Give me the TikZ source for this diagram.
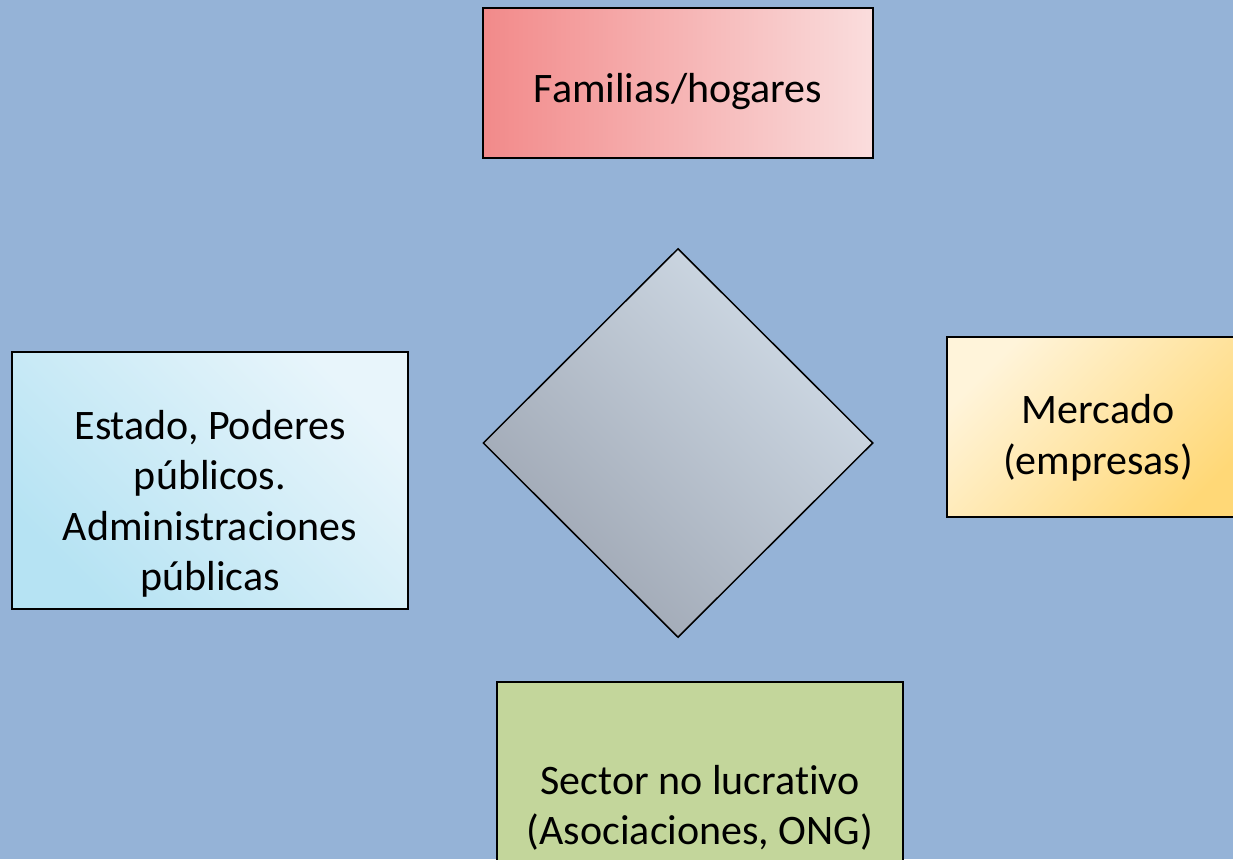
\documentclass[tikz,border=0pt]{standalone}
\usepackage{fontspec}
\setmainfont[Ligatures=NoCommon]{Carlito}
\usetikzlibrary{shapes.geometric}
\definecolor{fondo}{HTML}{95B3D7}
\definecolor{famA}{HTML}{F28A8A}
\definecolor{famB}{HTML}{FADDDD}
\definecolor{estA}{HTML}{B6E3F3}
\definecolor{estB}{HTML}{E8F5FB}
\definecolor{merA}{HTML}{FFF4DA}
\definecolor{merB}{HTML}{FFD877}
\definecolor{romA}{HTML}{9DA5B2}
\definecolor{romB}{HTML}{D1DCE7}
\definecolor{secA}{HTML}{C3D69B}

\begin{document}
\begin{tikzpicture}[x=1pt, y=-1pt, caja/.style={draw, line width=1.5pt, rectangle, inner sep=0pt}, txt/.style={align=center, inner sep=0pt, font=\fontsize{42}{50.5}\selectfont}]
\fill[fondo] (0,0) rectangle (1233,859);
\useasboundingbox (0,0) rectangle (1233,859);
%diamond in the middle
\node[diamond, draw, line width=1.5pt, inner sep=0pt, minimum width=390pt, minimum height=389pt, top color=romB, bottom color=romA, shading angle=-45] (rombo) at (678,443) {};
%boxes
\node[caja, minimum width=390pt, minimum height=150pt, left color=famA, right color=famB] (fam) at (678,83) {};
\node[caja, minimum width=396pt, minimum height=257pt, top color=estB, bottom color=estA, shading angle=-45] (est) at (210,480.5) {};
\node[caja, minimum width=302pt, minimum height=180pt, top color=merA, bottom color=merB, shading angle=45] (mer) at (1098,427) {};
\node[caja, minimum width=406pt, minimum height=250pt, fill=secA] (sec) at (700,807) {};
%texts
\node[txt] (famtxt) at (678,92) {Familias/hogares};
\node[txt] (esttxt) at (210,504) {Estado, Poderes\\públicos.\\Administraciones\\públicas};
\node[txt] (mertxt) at (1098,438) {Mercado\\(empresas)};
\node[txt] (sectxt) at (700,808) {Sector no lucrativo\\(Asociaciones, ONG)};
\end{tikzpicture}
\end{document}
